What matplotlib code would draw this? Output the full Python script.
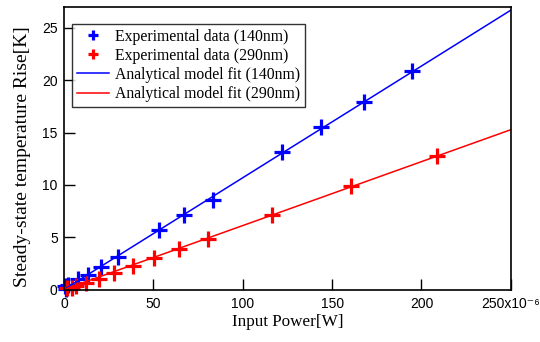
import numpy as np
import matplotlib
matplotlib.use('Agg')
import matplotlib.pyplot as plt
from matplotlib.ticker import FuncFormatter

# data, power in uW, temperature rise in K
p140 = [0.3, 1.0, 2.1, 7.7, 13.3, 20.8, 30.0, 53.4, 67.0, 83.5, 121.9, 143.7, 167.9, 194.9]
t140 = [0.35, 0.05, 0.41, 0.96, 1.37, 2.16, 3.06, 5.67, 7.1, 8.6, 13.1, 15.5, 17.95, 20.9]
p290 = [1.5, 4.5, 6.8, 12.4, 19.8, 28.2, 38.4, 50.6, 64.1, 80.3, 116.6, 160.5, 208.5]
t290 = [0.15, 0.1, 0.3, 0.63, 0.96, 1.6, 2.2, 3.05, 3.9, 4.85, 7.1, 9.85, 12.76]
fit_x = [0, 250]
slope140 = 0.1068
slope290 = 0.0611
x_ticks = [0, 50, 100, 150, 200, 250]

plt.rcParams['font.family'] = 'Liberation Serif'
fig = plt.figure(figsize=(5.4, 3.42), dpi=100)
ax = fig.add_axes([0.1185, 0.1535, 0.8275, 0.826])

fx = np.array(fit_x) * 1e-6
ax.plot(np.array(p140) * 1e-6, t140, '+', color='#0000ff', ms=12, mew=2.3,
        clip_on=False, label='Experimental data (140nm)')
ax.plot(np.array(p290) * 1e-6, t290, '+', color='#ff0000', ms=12, mew=2.3,
        clip_on=False, label='Experimental data (290nm)')
ax.plot(fx, slope140 * np.array(fit_x), color='#0000ff', lw=1.1,
        label='Analytical model fit (140nm)')
ax.plot(fx, slope290 * np.array(fit_x), color='#ff0000', lw=1.1,
        label='Analytical model fit (290nm)')

ax.set_xlim(0, 250e-6)
ax.set_ylim(0, 27)
ax.set_xticks(np.array(x_ticks) * 1e-6)
ax.set_yticks([0, 5, 10, 15, 20, 25])


def fmt(v, pos):
    n = int(round(v * 1e6))
    if n == 250:
        return '250x10\u207b\u2076'
    return str(n)


ax.xaxis.set_major_formatter(FuncFormatter(fmt))
ax.tick_params(direction='in', length=8, width=1, labelsize=10)
ax.tick_params(axis='x', pad=5.5)
ax.tick_params(axis='y', pad=4.5)
for lab in ax.get_xticklabels() + ax.get_yticklabels():
    lab.set_family(['Liberation Sans', 'DejaVu Sans'])
for s in ax.spines.values():
    s.set_linewidth(1.2)

ax.set_xlabel('Input Power[W]', fontsize=12.3)
ax.xaxis.set_label_coords(0.5, -0.088)
ax.set_ylabel('Steady-state temperature Rise[K]', fontsize=14)
ax.yaxis.set_label_coords(-0.074, 0.469)

leg = ax.legend(loc='upper left', bbox_to_anchor=(0.019, 0.94), fontsize=11.3,
                frameon=True, fancybox=False, edgecolor='black',
                handlelength=2.0, handletextpad=0.4, borderpad=0.3,
                labelspacing=0.2, markerscale=0.55, borderaxespad=0)
leg.get_frame().set_linewidth(1.0)

fig.savefig('out.png', dpi=100)
